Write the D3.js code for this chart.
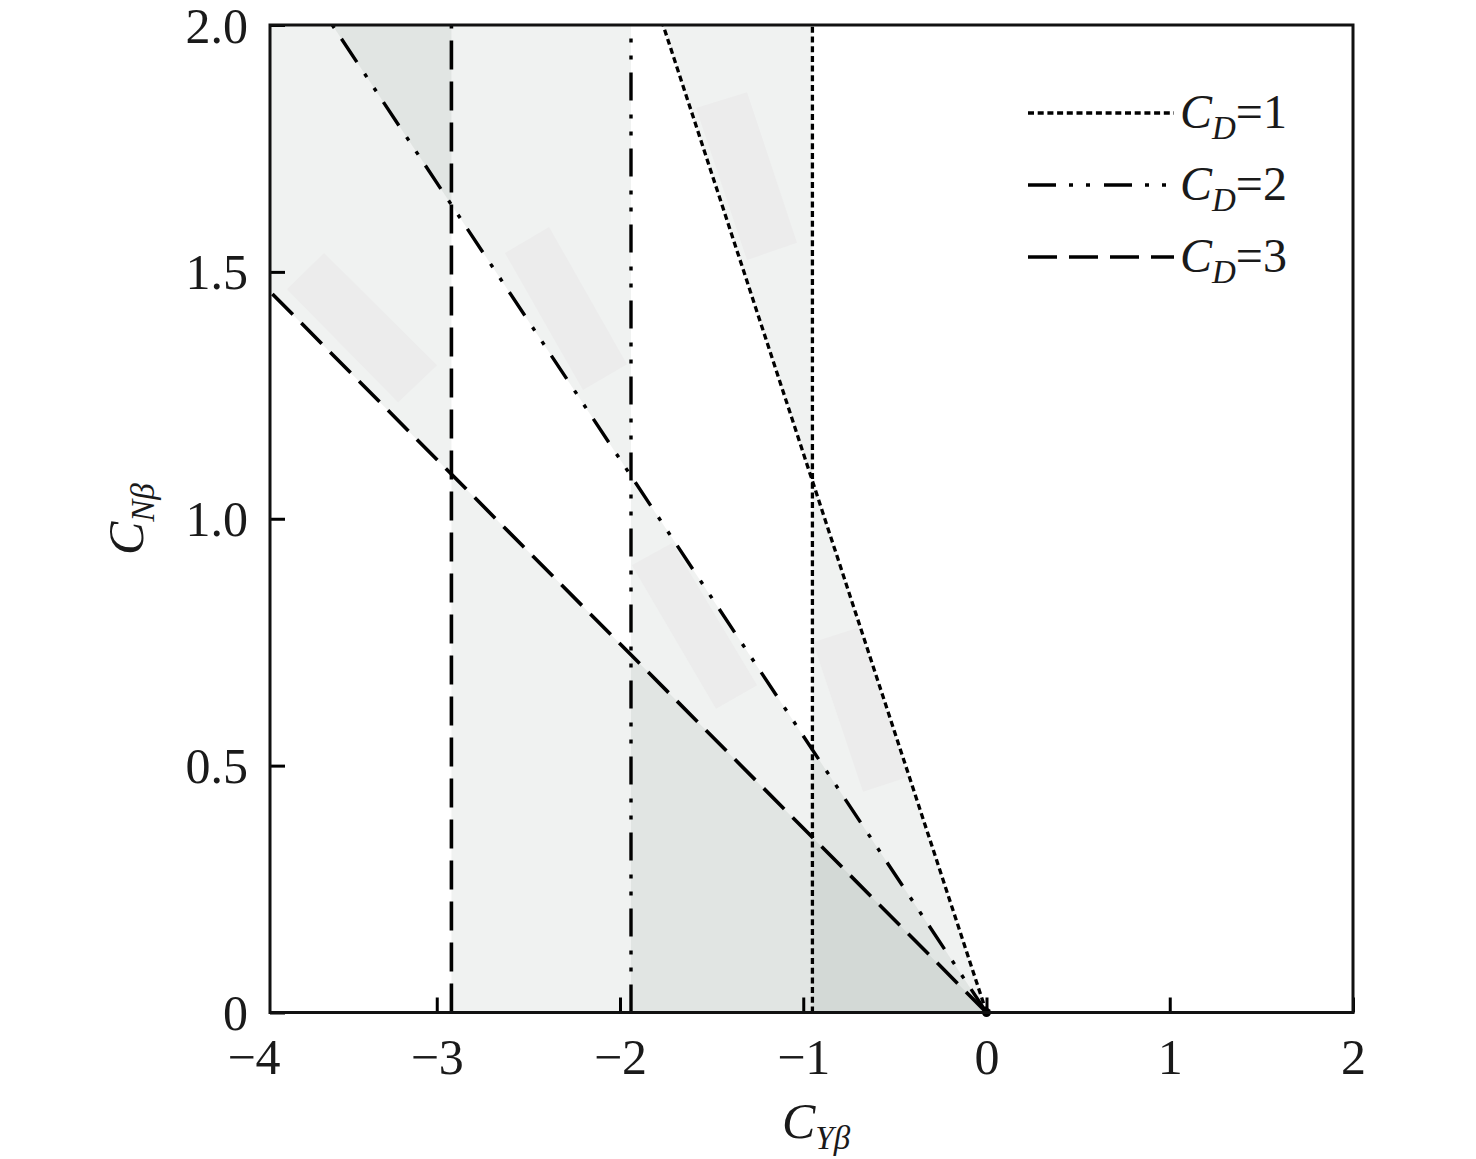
<!DOCTYPE html>
<html>
<head>
<meta charset="utf-8">
<script src="https://cdn.jsdelivr.net/npm/d3@7"></script>
<style>
body { margin: 0; background: #fff; }
svg { display: block; font-family: "Liberation Serif", "Times New Roman", serif; }
</style>
</head>
<body>
<svg width="1476" height="1159"></svg>
<script>
// drag coefficient of each boundary pair
var cdValues = [1, 2, 3];
// far end (CY, CN) of each sloped boundary, which starts at the origin
var diagonalEnd = [[-1.765, 2.0], [-3.57, 2.0], [-3.91, 1.46]];
// CY of each vertical boundary
var verticalCY = [-0.95, -1.94, -2.92];
var xTicks = [-4, -3, -2, -1, 0, 1, 2];
var yTicks = [0, 0.5, 1.0, 1.5, 2.0];
// faint label boxes, corners in (CY, CN)
var boxA = [[-3.615, 1.538], [-2.999, 1.311], [-3.211, 1.236], [-3.817, 1.465]];
var boxB = [[-2.387, 1.591], [-1.962, 1.313], [-2.202, 1.261], [-2.628, 1.538]];
var boxC = [[-1.716, 0.951], [-1.252, 0.663], [-1.476, 0.615], [-1.935, 0.906]];
var boxD = [[-1.307, 1.864], [-1.034, 1.559], [-1.307, 1.524], [-1.585, 1.832]];
var boxE = [[-0.701, 0.779], [-0.428, 0.477], [-0.674, 0.447], [-0.947, 0.750]];

var svg = d3.select("svg"),
    margin = {top: 25, right: 123, bottom: 146.5, left: 270},
    width = +svg.attr("width") - margin.left - margin.right,
    height = +svg.attr("height") - margin.top - margin.bottom;

var x = d3.scaleLinear().domain([-3.91, 2]).range([0, width]),
    y = d3.scaleLinear().domain([0, 2]).range([height, 0]);

var dashes = ["6,3.7", "28,13,4,13,4,14", "29,12"],
    widths = [3.3, 3.4, 3.6];

var g = svg.append("g")
    .attr("transform", "translate(" + margin.left + "," + margin.top + ")");

function poly(pts) {
    return "M" + pts.map(function(p) { return x(p[0]) + "," + y(p[1]); }).join("L") + "Z";
}

// shaded wedges between each vertical and sloped boundary
var yTop = y.domain()[1];
var wedges = [];
cdValues.forEach(function(cd, i) {
    var v = verticalCY[i], end = diagonalEnd[i];
    var cross = [v, end[1] * v / end[0]];
    wedges.push([cross, end, [end[0], yTop], [v, yTop]]);
    wedges.push([cross, [0, 0], [v, 0]]);
});

g.selectAll(".wedge")
    .data(wedges)
    .enter().append("path")
        .attr("class", "wedge")
        .attr("d", poly)
        .attr("fill", "rgb(0,30,15)")
        .attr("fill-opacity", 0.058);

g.selectAll(".box")
    .data([boxA, boxB, boxC, boxD, boxE])
    .enter().append("path")
        .attr("class", "box")
        .attr("d", poly)
        .attr("fill", "#ececec");

// boundary lines
var line = d3.line()
    .x(function(d) { return x(d[0]); })
    .y(function(d) { return y(d[1]); });

cdValues.forEach(function(cd, i) {
    g.append("path")
        .attr("d", line([[0, 0], diagonalEnd[i]]))
        .attr("fill", "none")
        .attr("stroke", "#000")
        .attr("stroke-width", widths[i])
        .attr("stroke-dasharray", dashes[i]);
    g.append("path")
        .attr("d", line([[verticalCY[i], 0], [verticalCY[i], yTop]]))
        .attr("fill", "none")
        .attr("stroke", "#000")
        .attr("stroke-width", widths[i])
        .attr("stroke-dasharray", dashes[i]);
});

g.append("circle")
    .attr("cx", x(0))
    .attr("cy", y(0))
    .attr("r", 4.5)
    .attr("fill", "#000");

// axes
var xAxis = g.append("g")
    .attr("class", "axis axis--x")
    .attr("transform", "translate(0," + height + ")")
    .call(d3.axisBottom(x).tickValues(xTicks).tickSizeInner(-15).tickSizeOuter(0)
        .tickPadding(26).tickFormat(d3.format("d")));

xAxis.selectAll(".tick line")
    .attr("stroke-width", 3)
    .style("display", function(d) { return d < x.domain()[0] ? "none" : null; });

var yAxis = g.append("g")
    .attr("class", "axis axis--y")
    .call(d3.axisLeft(y).tickValues(yTicks).tickSizeInner(-15).tickSizeOuter(0)
        .tickPadding(22).tickFormat(function(d) { return d === 0 ? "0" : d3.format(".1f")(d); }));

yAxis.selectAll(".tick line").attr("stroke-width", 3);
yAxis.selectAll(".tick text").attr("dy", "0.34em");

svg.selectAll(".axis .domain").remove();
svg.selectAll(".axis text")
    .style("font-family", "'Liberation Serif', serif")
    .style("font-size", "50px")
    .attr("fill", "#1a1a1a");

g.append("rect")
    .attr("width", width)
    .attr("height", height)
    .attr("fill", "none")
    .attr("stroke", "#111")
    .attr("stroke-width", 3);

// axis titles
var xt = svg.append("text")
    .attr("x", 782)
    .attr("y", 1138)
    .style("font-size", "50px")
    .attr("fill", "#1a1a1a");
xt.append("tspan").style("font-style", "italic").text("C");
xt.append("tspan").style("font-style", "italic").style("font-size", "33px").attr("dy", 11).text("Yβ");

var yt = svg.append("text")
    .attr("transform", "translate(143,555) rotate(-90)")
    .style("font-size", "50px")
    .attr("fill", "#1a1a1a");
yt.append("tspan").style("font-style", "italic").text("C");
yt.append("tspan").style("font-style", "italic").style("font-size", "33px").attr("dy", 11).text("Nβ");

// legend
var legend = svg.append("g").attr("class", "legend");
cdValues.forEach(function(cd, i) {
    var ly = 113 + i * 72;
    legend.append("line")
        .attr("x1", 1028)
        .attr("x2", 1174)
        .attr("y1", ly)
        .attr("y2", ly)
        .attr("stroke", "#000")
        .attr("stroke-width", widths[i])
        .attr("stroke-dasharray", dashes[i]);
    var t = legend.append("text")
        .attr("x", 1180)
        .attr("y", ly + 15)
        .style("font-size", "48px")
        .attr("fill", "#1a1a1a");
    t.append("tspan").style("font-style", "italic").text("C");
    t.append("tspan").style("font-style", "italic").style("font-size", "33px").attr("dy", 11).text("D");
    t.append("tspan").attr("dy", -11).text("=" + cd);
});
</script>
</body>
</html>
